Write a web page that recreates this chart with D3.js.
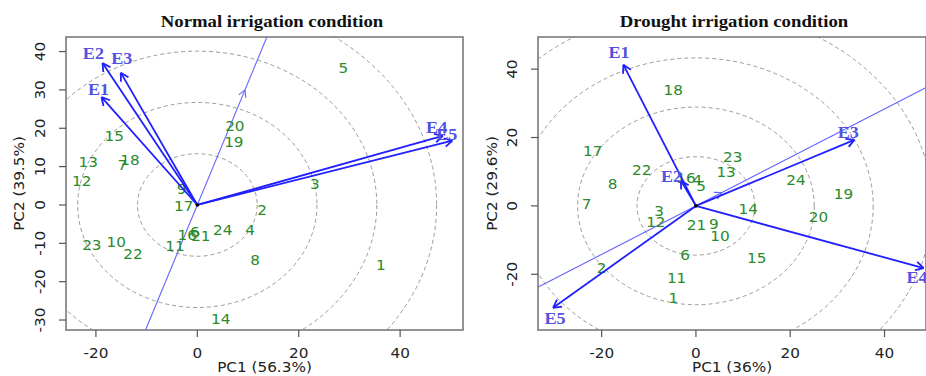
<!DOCTYPE html>
<html lang="en">
<head>
<meta charset="UTF-8">
<title>GGE biplots - normal vs drought irrigation</title>
<script src="https://d3js.org/d3.v7.min.js"></script>
<style>
  body { margin: 0; background: #fff; overflow: hidden; }
  svg { display: block; }
</style>
</head>
<body>
<script>
// genotype labels
const genotypes = ["1","2","3","4","5","6","7","8","9","10","11","12",
                   "13","14","15","16","17","18","19","20","21","22","23","24"];

// normal irrigation: genotype scores
const normalPC1 = [36.2, 12.8, 23.2, 10.4, 28.8, -0.5, -14.8, 11.4, -3.1, -16.0, -4.4, -22.8,
                   -21.5, 4.6, -16.4, -2.0, -2.7, -13.3, 7.2, 7.4, 0.7, -12.7, -20.8, 5.0];
const normalPC2 = [-15.7, -1.3, 5.4, -6.7, 35.7, -7.0, 10.4, -14.3, 4.1, -9.8, -10.7, 6.3,
                   11.1, -29.8, 17.8, -7.8, -0.4, 11.7, 16.3, 20.6, -8.3, -12.8, -10.4, -6.5];

// drought irrigation: genotype scores
const droughtPC1 = [-4.8, -20.0, -7.8, 0.3, 1.1, -2.3, -23.2, -17.7, 3.8, 5.1, -4.1, -8.5,
                    6.4, 11.1, 12.9, -2.1, -21.9, -4.8, 31.3, 26.0, 0.1, -11.5, 7.8, 21.2];
const droughtPC2 = [-27.0, -18.2, -1.7, 7.4, 5.6, -14.6, 0.6, 6.4, -5.3, -8.8, -21.2, -4.9,
                    9.7, -1.0, -15.3, 8.1, 15.9, 33.9, 3.5, -3.3, -5.6, 10.3, 14.3, 7.6];

// environment vectors
const envNames = ["E1", "E2", "E3", "E4", "E5"];
const normalEnvPC1 = [-18.9, -18.7, -15.1, 48.4, 50.3];
const normalEnvPC2 = [28.1, 37.0, 34.5, 18.0, 16.8];
const normalEnvLabPC1 = [-19.5, -20.5, -14.9, 47.2, 49.2];
const normalEnvLabPC2 = [30.0, 39.4, 38.2, 20.2, 18.3];

const droughtEnvPC1 = [-15.4, -3.2, 33.6, 48.3, -30.3];
const droughtEnvPC2 = [41.3, 7.4, 19.3, -18.2, -29.8];
const droughtEnvLabPC1 = [-16.3, -5.2, 32.3, 46.9, -29.9];
const droughtEnvLabPC2 = [44.9, 8.6, 21.5, -21.0, -32.9];

// average environment axis (arrow point)
const normalAxis = [9.4, 30.0];
const droughtAxis = [5.5, 3.9];

// concentric rings (PC1 units)
const normalRings = [11.8, 23.6, 35.4, 47.2];
const droughtRings = [12.5, 25.1, 37.6, 50.1];

// ticks
const normalXTicks = [-20, 0, 20, 40];
const normalYTicks = [-30, -20, -10, 0, 10, 20, 30, 40];
const droughtXTicks = [-20, 0, 20, 40];
const droughtYTicks = [-20, 0, 20, 40];

const W = 926, H = 376;
const stretch = 1.13; // glyphs in the source are slightly wide

const svg = d3.select("body").append("svg")
  .attr("width", W).attr("height", H);

const panels = [
  {
    id: "normal", title: "Normal irrigation condition", titleX: 272,
    box: [66, 463, 37, 330], xDom: [-25.9, 52.4], yDom: [-32.6, 43.8],
    pc1: normalPC1, pc2: normalPC2,
    e1: normalEnvPC1, e2: normalEnvPC2, l1: normalEnvLabPC1, l2: normalEnvLabPC2,
    axis: normalAxis, rings: normalRings, ringAspect: 0.857,
    xTicks: normalXTicks, yTicks: normalYTicks,
    xLab: "PC1 (56.3%)", yLab: "PC2 (39.5%)", yLabX: 19, yTickX: 40
  },
  {
    id: "drought", title: "Drought irrigation condition", titleX: 734,
    box: [538, 926, 37, 330], xDom: [-33.5, 48.8], yDom: [-36.3, 49.4],
    pc1: droughtPC1, pc2: droughtPC2,
    e1: droughtEnvPC1, e2: droughtEnvPC2, l1: droughtEnvLabPC1, l2: droughtEnvLabPC2,
    axis: droughtAxis, rings: droughtRings, ringAspect: 0.835,
    xTicks: droughtXTicks, yTicks: droughtYTicks,
    xLab: "PC1 (36%)", yLab: "PC2 (29.6%)", yLabX: 492, yTickX: 512
  }
];

function stretchedText(g, x, y, str, rot) {
  const r = rot ? ` rotate(${rot})` : "";
  return g.append("text")
    .attr("transform", `translate(${x},${y})${r} scale(${stretch},1)`)
    .text(str);
}

function arrowHead(g, x0, y0, x1, y1, len, color, width) {
  const a = Math.atan2(y1 - y0, x1 - x0);
  const p = d3.path();
  [-0.5, 0.5].forEach(o => {
    p.moveTo(x1, y1);
    p.lineTo(x1 - len * Math.cos(a + o), y1 - len * Math.sin(a + o));
  });
  g.append("path").attr("d", p.toString())
    .attr("fill", "none").attr("stroke", color).attr("stroke-width", width);
}

panels.forEach(P => {
  const [bx0, bx1, by0, by1] = P.box;
  const x = d3.scaleLinear().domain(P.xDom).range([bx0, bx1]);
  const y = d3.scaleLinear().domain(P.yDom).range([by1, by0]);
  const g = svg.append("g");

  g.append("clipPath").attr("id", "clip-" + P.id)
    .append("rect").attr("x", bx0).attr("y", by0)
    .attr("width", bx1 - bx0).attr("height", by1 - by0);

  const inner = g.append("g").attr("clip-path", `url(#clip-${P.id})`);

  // dashed rings
  inner.selectAll("ellipse").data(P.rings).join("ellipse")
    .attr("cx", x(0)).attr("cy", y(0))
    .attr("rx", d => x(d) - x(0))
    .attr("ry", d => (x(d) - x(0)) * P.ringAspect)
    .attr("fill", "none").attr("stroke", "#9a9a9a")
    .attr("stroke-width", 1).attr("stroke-dasharray", "4,3");

  // average environment axis, extended across the panel
  const k = 20;
  inner.append("line")
    .attr("x1", x(-P.axis[0] * k)).attr("y1", y(-P.axis[1] * k))
    .attr("x2", x(P.axis[0] * k)).attr("y2", y(P.axis[1] * k))
    .attr("stroke", "#6363ff").attr("stroke-width", 1.1);
  arrowHead(inner, x(0), y(0), x(P.axis[0]), y(P.axis[1]), 8, "#6363ff", 1.1);

  // genotype labels
  const gl = g.append("g")
    .attr("font-family", "'DejaVu Sans', sans-serif")
    .attr("font-size", 13.5).attr("fill", "#2b8a2b")
    .attr("text-anchor", "middle").attr("dominant-baseline", "central");
  genotypes.forEach((name, i) => {
    stretchedText(gl, x(P.pc1[i]), y(P.pc2[i]), name);
  });

  // environment vectors
  const ev = g.append("g");
  envNames.forEach((name, i) => {
    ev.append("line")
      .attr("x1", x(0)).attr("y1", y(0))
      .attr("x2", x(P.e1[i])).attr("y2", y(P.e2[i]))
      .attr("stroke", "#1f1fff").attr("stroke-width", 1.8);
    arrowHead(ev, x(0), y(0), x(P.e1[i]), y(P.e2[i]), 9, "#1f1fff", 1.8);
  });
  const el = g.append("g")
    .attr("font-family", "'Liberation Serif', serif")
    .attr("font-weight", "bold").attr("font-size", 16)
    .attr("fill", "#5252e2")
    .attr("text-anchor", "middle").attr("dominant-baseline", "central");
  envNames.forEach((name, i) => {
    stretchedText(el, x(P.l1[i]), y(P.l2[i]), name);
  });

  // origin marker
  g.append("circle").attr("cx", x(0)).attr("cy", y(0)).attr("r", 1.8).attr("fill", "#000");

  // frame
  g.append("rect").attr("x", bx0).attr("y", by0)
    .attr("width", bx1 - bx0).attr("height", by1 - by0)
    .attr("fill", "none").attr("stroke", "#7a7a7a").attr("stroke-width", 1.6);

  // ticks
  const tk = g.append("g").attr("stroke", "#555").attr("stroke-width", 1.2);
  P.xTicks.forEach(t => {
    tk.append("line").attr("x1", x(t)).attr("x2", x(t)).attr("y1", by1).attr("y2", by1 + 7);
  });
  P.yTicks.forEach(t => {
    tk.append("line").attr("x1", bx0).attr("x2", bx0 - 7).attr("y1", y(t)).attr("y2", y(t));
  });

  const tl = g.append("g")
    .attr("font-family", "'DejaVu Sans', sans-serif")
    .attr("font-size", 13.5).attr("fill", "#222")
    .attr("text-anchor", "middle");
  P.xTicks.forEach(t => stretchedText(tl, x(t), 358, String(t)));
  P.yTicks.forEach(t => stretchedText(tl, P.yTickX + 5, y(t), String(t), -90));

  stretchedText(tl, (bx0 + bx1) / 2, 372, P.xLab);
  stretchedText(tl, P.yLabX + 5, (by0 + by1) / 2, P.yLab, -90);

  // title
  svg.append("text")
    .attr("transform", `translate(${P.titleX},27) scale(1.07,1)`)
    .attr("text-anchor", "middle")
    .attr("font-family", "'Liberation Serif', serif")
    .attr("font-weight", "bold").attr("font-size", 17.5)
    .attr("fill", "#111")
    .text(P.title);
});
</script>
</body>
</html>
